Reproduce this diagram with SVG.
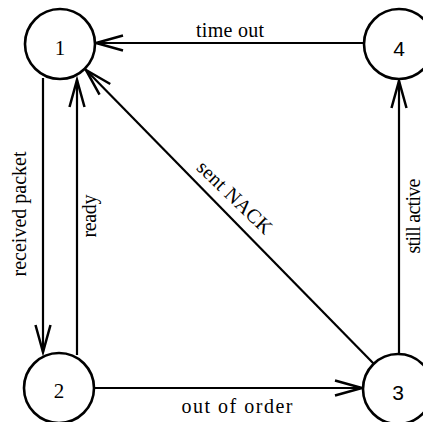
<svg xmlns="http://www.w3.org/2000/svg" width="423" height="422" viewBox="0 0 423 422">
<style>
.node{fill:#fff;stroke:#000;stroke-width:2.6}
.edge{stroke:#000;stroke-width:2.2;fill:none;marker-end:url(#arr)}
.lbl{font-family:"Liberation Serif","Times New Roman",serif;font-size:20px;fill:#000}
.num{font-size:21px;fill:#000;text-anchor:middle}
</style>
<defs>
<marker id="arr" markerUnits="userSpaceOnUse" markerWidth="30" markerHeight="20" viewBox="-28 -9 30 18" refX="0" refY="0" orient="auto" overflow="visible">
<path d="M-27,-7.5 L0,0 L-27,7.5" fill="none" stroke="#000" stroke-width="2.5"/>
</marker>
</defs>
<rect width="423" height="422" fill="#fff"/>
<g id="connectors">
<line class="edge" x1="43" y1="78" x2="43" y2="352"/>
<line class="edge" x1="77" y1="355" x2="77" y2="80"/>
<line class="edge" x1="364" y1="43" x2="96" y2="43"/>
<line class="edge" x1="374" y1="364" x2="86" y2="70"/>
<line class="edge" x1="94" y1="388" x2="362" y2="388"/>
<line class="edge" x1="399" y1="354" x2="399" y2="81"/>
<text class="lbl" x="230" y="37" text-anchor="middle" textLength="68">time out</text>
<text class="lbl" x="237" y="413" text-anchor="middle" textLength="111">out of order</text>
<text class="lbl" transform="translate(26,214) rotate(-90)" text-anchor="middle" textLength="125">received packet</text>
<text class="lbl" transform="translate(96,216) rotate(-90)" text-anchor="middle" textLength="43">ready</text>
<text class="lbl" transform="translate(420,216) rotate(-90)" text-anchor="middle" textLength="75">still active</text>
<text class="lbl" transform="translate(230,202) rotate(44)" text-anchor="middle" textLength="96">sent NACK</text>
</g>
<g id="node1"><circle class="node" cx="60" cy="44" r="35"/><text class="num" x="60" y="55" font-family="Liberation Serif, serif">1</text></g>
<g id="node2"><circle class="node" cx="59" cy="388" r="35"/><text class="num" x="59" y="398" font-family="Liberation Serif, serif">2</text></g>
<g id="node3"><circle class="node" cx="398" cy="389" r="35"/><text class="num" x="398" y="400" font-family="Liberation Sans, sans-serif">3</text></g>
<g id="node4"><circle class="node" cx="399" cy="44" r="35"/><text class="num" x="399" y="56" font-family="Liberation Sans, sans-serif">4</text></g>
</svg>
